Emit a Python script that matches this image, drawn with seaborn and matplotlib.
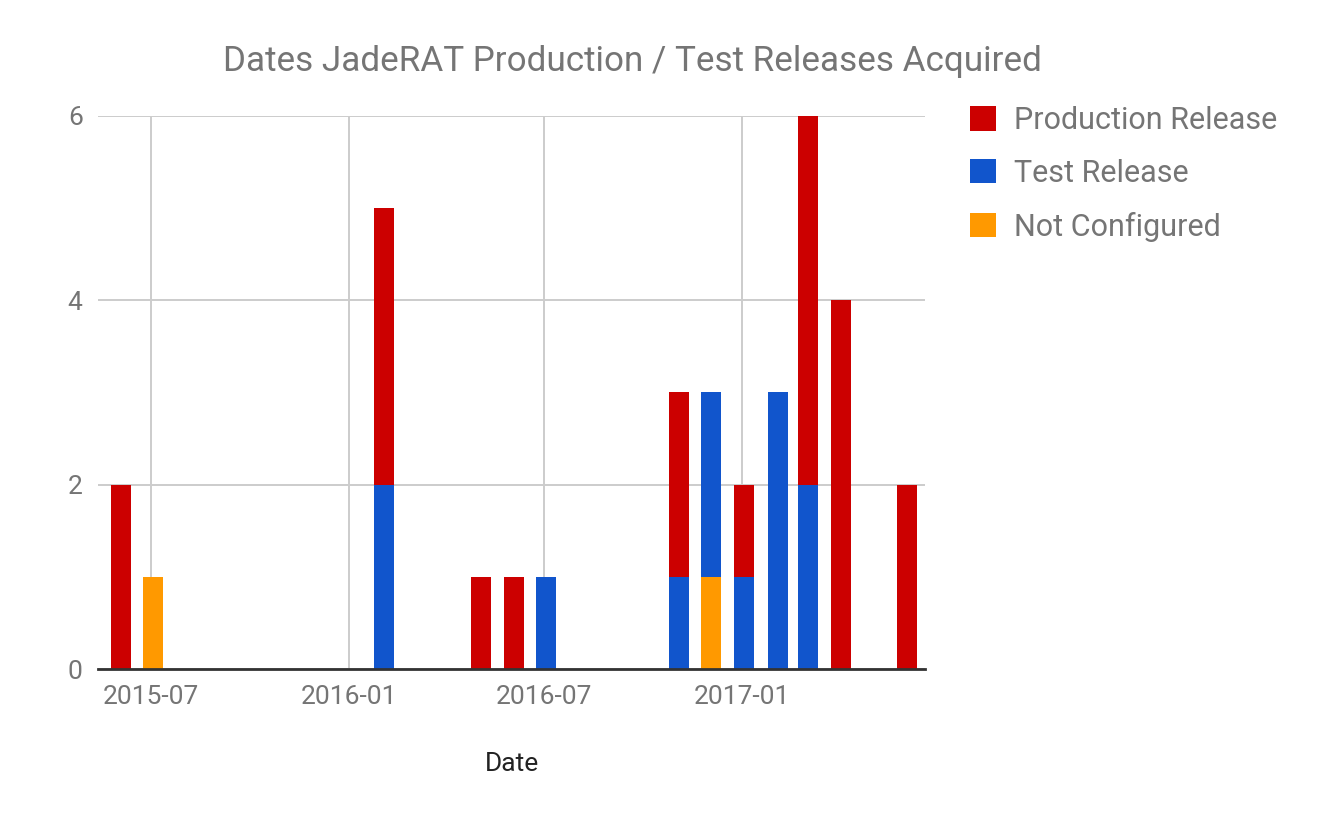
import matplotlib
matplotlib.use("Agg")
import pandas as pd
import seaborn as sns
import matplotlib.pyplot as plt
import matplotlib.dates as mdates
from matplotlib.patches import Patch

# data (monthly counts)
months = ["2015-06", "2015-07", "2016-02", "2016-05", "2016-06", "2016-07",
          "2016-11", "2016-12", "2017-01", "2017-02", "2017-03", "2017-04", "2017-06"]
production = [2, 0, 3, 1, 1, 0, 2, 0, 1, 0, 4, 4, 2]
test = [0, 0, 2, 0, 0, 1, 1, 2, 1, 3, 2, 0, 0]
not_configured = [0, 1, 0, 0, 0, 0, 0, 1, 0, 0, 0, 0, 0]
series = ["Production Release", "Test Release", "Not Configured"]
colors = ["#CC0000", "#1155CC", "#FF9900"]

sns.set_theme(style="whitegrid")
plt.rcParams["font.family"] = ["Roboto", "DejaVu Sans"]

df = pd.DataFrame({"month": months, series[0]: production,
                   series[1]: test, series[2]: not_configured})
df = df.melt(id_vars="month", var_name="type", value_name="count")
df["x"] = mdates.date2num(pd.to_datetime(df["month"]).values)

# one narrow bin around each month (slightly right of the 1st, like the sheet chart)
half = 9.3
shift = 2
edges = []
for c in sorted(df["x"].unique()):
    edges += [c + shift - half, c + shift + half]

fig = plt.figure(figsize=(13.2, 8.16), dpi=100)
ax = fig.add_axes([0.0742, 0.1798, 0.6266, 0.6784])

sns.histplot(data=df, x="x", weights="count", hue="type", hue_order=series,
             palette=colors, multiple="stack", bins=edges, element="bars",
             linewidth=0, alpha=1, legend=False, ax=ax)

ax.set_xlim(mdates.date2num(pd.Timestamp("2015-05-13")),
            mdates.date2num(pd.Timestamp("2017-06-20")))
ax.set_ylim(0, 6)
ax.set_yticks([0, 2, 4, 6])
ax.xaxis.set_major_locator(mdates.MonthLocator(bymonth=[1, 7]))
ax.xaxis.set_major_formatter(mdates.DateFormatter("%Y-%m"))

ax.grid(True, color="#cccccc", linewidth=1.4)
ax.tick_params(length=0, labelsize=19, labelcolor="#757575")
ax.tick_params(axis="x", pad=11)
ax.tick_params(axis="y", pad=11)
for s in ["left", "right", "top"]:
    ax.spines[s].set_visible(False)
ax.spines["bottom"].set_color("#333333")
ax.spines["bottom"].set_linewidth(2)

ax.set_xlabel("Date", fontsize=19, color="#222222", labelpad=31)
ax.set_ylabel("")

fig.text(0.479, 0.913, "Dates JadeRAT Production / Test Releases Acquired",
         ha="center", va="baseline", fontsize=25.2, color="#757575")

handles = [Patch(facecolor=c, edgecolor="none") for c in colors]
fig.legend(handles, series, loc="upper left", bbox_to_anchor=(970 / 1320, 1 - 106 / 816),
           frameon=False, fontsize=22, labelcolor="#757575", borderpad=0,
           borderaxespad=0, handlelength=0.85, handleheight=0.85,
           handletextpad=0.6, labelspacing=0.78)

fig.savefig("out.png", dpi=100)
